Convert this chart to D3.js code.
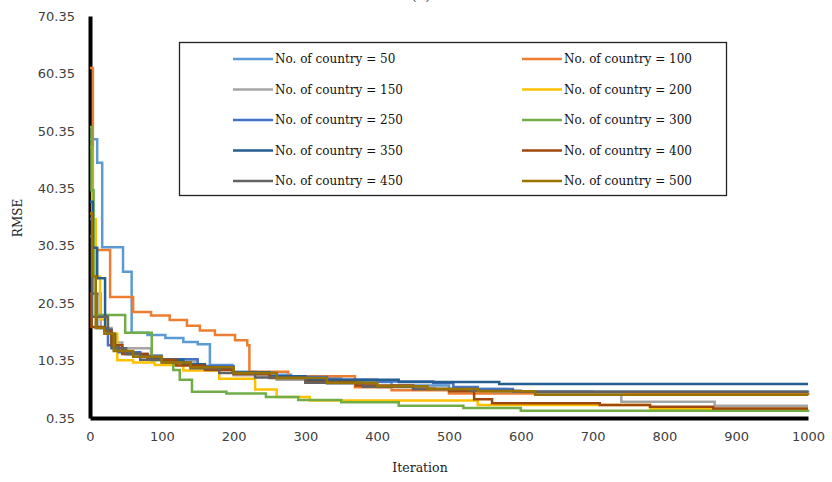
<!DOCTYPE html>
<html>
<head>
<meta charset="utf-8">
<script src="https://cdn.jsdelivr.net/npm/d3@7"></script>
<style>
  body { margin: 0; background: #fff; }
  svg { display: block; }
</style>
</head>
<body>
<svg></svg>
<script>
// tick labels
var iterTicks = [0, 100, 200, 300, 400, 500, 600, 700, 800, 900, 1000];
var rmseTicks = [0.35, 10.35, 20.35, 30.35, 40.35, 50.35, 60.35, 70.35];

var counts = [50, 100, 150, 200, 250, 300, 350, 400, 450, 500];
var colors = ["#5B9BD5", "#ED7D31", "#A5A5A5", "#FFC000", "#4472C4",
              "#70AD47", "#255E91", "#9E480E", "#636363", "#997300"];

// [iteration, RMSE] where the best value changes
var s50 = [[0,48.9],[10,44.8],[17,30.1],[46,25.8],[58,15.2],[80,14.8],[105,14.3],[130,13.6],[150,13.2],[167,9.6],[198,8.4],[230,7.9],[280,7.3],[350,6.6],[420,6.0],[500,5.4],[580,4.9],[700,4.6],[1000,4.6]];
var s100 = [[0,61.3],[4,29.6],[28,21.4],[60,18.8],[85,18.2],[111,17.4],[135,16.4],[153,15.6],[174,14.8],[202,13.9],[219,13.0],[222,8.4],[276,7.6],[369,5.7],[420,5.2],[500,4.6],[1000,4.4]];
var s150 = [[0,36],[3,22],[15,16],[30,13.5],[45,12.5],[85,11.2],[100,10.2],[150,9.0],[200,7.8],[260,7.0],[330,6.3],[400,5.7],[480,5.3],[560,4.9],[620,4.6],[740,3.2],[870,2.5],[1000,2.5]];
var s200 = [[0,47.5],[3,35],[8,25],[14,17.5],[25,15],[38,10.4],[60,10.0],[90,9.6],[130,8.6],[180,7.2],[230,5.3],[260,4.0],[306,3.4],[540,2.6],[780,1.9],[1000,1.9]];
var s250 = [[0,35],[3,22],[10,16],[25,13],[40,11.8],[70,11.2],[100,10.6],[150,9.4],[200,8.2],[260,7.5],[330,7.0],[400,6.7],[478,6.45],[506,5.75],[540,5.4],[589,4.9],[1000,4.8]];
var s300 = [[0,51],[2,40],[5,25],[8,18.3],[49,15.2],[86,10.4],[116,8.7],[125,7.0],[142,4.9],[190,4.6],[245,4.0],[290,3.5],[350,3.1],[430,2.5],[520,2.1],[600,1.6],[1000,1.4]];
var s350 = [[0,38],[4,30],[10,24.7],[21,15.7],[30,12.5],[50,11.5],[80,10.8],[100,10.5],[130,9.7],[160,9.0],[200,8.3],[250,7.6],[300,7.0],[430,6.6],[570,6.27],[1000,6.27]];
var s400 = [[0,22],[2,16.2],[20,15.5],[30,13],[45,11.5],[80,10.5],[120,9.5],[160,8.7],[200,8.0],[250,7.3],[300,6.6],[370,6.0],[450,5.4],[500,5.0],[535,3.6],[560,2.9],[710,2.6],[780,2.3],[868,2.0],[1000,2.0]];
var s450 = [[0,32],[3,18],[25,15],[35,12.5],[50,11.5],[70,10.5],[100,10.0],[140,9.0],[180,8.2],[230,7.4],[300,6.5],[380,5.8],[450,5.4],[530,5.1],[600,4.9],[1000,4.9]];
var s500 = [[0,36],[3,25],[8,16],[20,15],[33,12],[60,11],[100,10.0],[140,9.2],[200,8.2],[260,7.3],[330,6.5],[400,5.9],[470,5.4],[540,5.0],[620,4.4],[1000,4.3]];

var allSeries = [s50, s100, s150, s200, s250, s300, s350, s400, s450, s500];

var width = 832, height = 482;

var svg = d3.select("svg")
            .attr("width", width)
            .attr("height", height);

var xScale = d3.scaleLinear()
               .domain([0, 1000])
               .range([90, 808]);

var yScale = d3.scaleLinear()
               .domain([0.35, 70.35])
               .range([418, 16]);

// title, cut off at the top edge like in the source
svg.append("text")
   .attr("x", 421)
   .attr("y", 0)
   .attr("text-anchor", "middle")
   .style("font-family", "DejaVu Serif")
   .style("font-size", "14px")
   .style("fill", "#333")
   .text("(a)");

// x axis
var xAxis = svg.append("g")
   .attr("transform", "translate(0,418)")
   .call(d3.axisBottom(xScale)
      .tickValues(iterTicks)
      .tickSize(0)
      .tickPadding(14)
      .tickFormat(d3.format("d")));

// y axis
var yAxis = svg.append("g")
   .attr("transform", "translate(90,0)")
   .call(d3.axisLeft(yScale)
      .tickValues(rmseTicks)
      .tickSize(0)
      .tickPadding(15)
      .tickFormat(d3.format(".2f")));

[xAxis, yAxis].forEach(function(ax) {
  ax.select(".domain").attr("stroke", "#000").attr("stroke-width", 4);
  ax.selectAll("text")
    .style("font-family", "DejaVu Sans")
    .style("font-size", "13px")
    .style("fill", "#404040");
});

// axis titles
svg.append("text")
   .attr("transform", "translate(22,218) rotate(-90)")
   .attr("text-anchor", "middle")
   .style("font-family", "DejaVu Serif")
   .style("font-size", "12px")
   .style("fill", "#222")
   .text("RMSE");

svg.append("text")
   .attr("x", 420)
   .attr("y", 472)
   .attr("text-anchor", "middle")
   .style("font-family", "DejaVu Serif")
   .style("font-size", "12.5px")
   .style("fill", "#222")
   .text("Iteration");

// the curves
var line = d3.line()
   .x(d => xScale(d[0]))
   .y(d => yScale(d[1]))
   .curve(d3.curveStepAfter);

svg.append("g")
   .selectAll("path")
   .data(allSeries)
   .enter().append("path")
     .attr("d", line)
     .attr("fill", "none")
     .attr("stroke", (d, i) => colors[i])
     .attr("stroke-width", 2.5);

// legend
var legend = svg.append("g");

legend.append("rect")
   .attr("x", 179.5)
   .attr("y", 42.5)
   .attr("width", 547)
   .attr("height", 153)
   .attr("fill", "#fff")
   .attr("stroke", "#222")
   .attr("stroke-width", 1.3);

var item = legend.selectAll("g.item")
   .data(counts)
   .enter().append("g")
     .attr("class", "item")
     .attr("transform", (d, i) => "translate(" + (i % 2 === 0 ? 233 : 522) + "," + (59 + Math.floor(i / 2) * 30.5) + ")");

item.append("line")
   .attr("x1", 0).attr("x2", 40)
   .attr("y1", 0).attr("y2", 0)
   .attr("stroke", (d, i) => colors[i])
   .attr("stroke-width", 2.5);

item.append("text")
   .attr("x", 42)
   .attr("y", 0)
   .attr("dy", "0.35em")
   .style("font-family", "DejaVu Serif")
   .style("font-size", "12px")
   .style("fill", "#111")
   .text(d => "No. of country = " + d);
</script>
</body>
</html>
